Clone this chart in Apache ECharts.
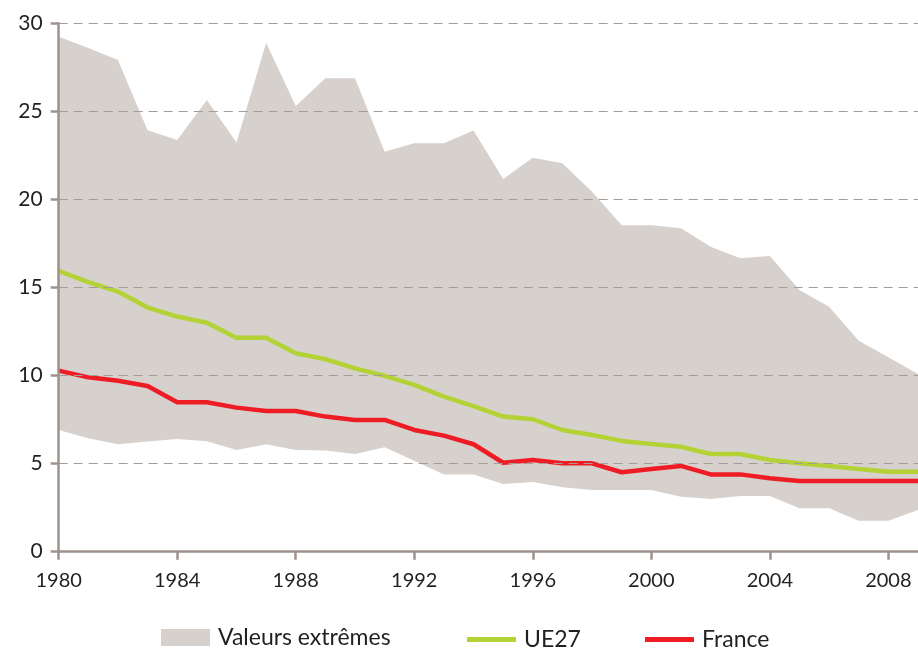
<!DOCTYPE html>
<html>
<head>
<meta charset="utf-8">
<script src="https://cdn.jsdelivr.net/npm/echarts@6/dist/echarts.min.js"></script>
<style>
  html, body { margin: 0; padding: 0; background: #ffffff; }
  #chart { width: 918px; height: 649px; }
</style>
</head>
<body>
<div id="chart"></div>
<script>
const years = ['1980', '1981', '1982', '1983', '1984', '1985', '1986', '1987', '1988', '1989',
               '1990', '1991', '1992', '1993', '1994', '1995', '1996', '1997', '1998', '1999',
               '2000', '2001', '2002', '2003', '2004', '2005', '2006', '2007', '2008', '2009'];
const yTicks = [0, 5, 10, 15, 20, 25, 30];

const maxVals = [29.24, 28.6, 27.92, 23.93, 23.37, 25.65, 23.23, 28.9, 25.31, 26.88,
                 26.88, 22.71, 23.19, 23.19, 23.91, 21.16, 22.37, 22.05, 20.44, 18.54,
                 18.54, 18.36, 17.32, 16.66, 16.79, 14.86, 13.91, 11.98, 11.04, 10.09];
const minVals = [6.91, 6.44, 6.10, 6.25, 6.40, 6.27, 5.78, 6.10, 5.78, 5.74,
                 5.55, 5.93, 5.17, 4.39, 4.39, 3.84, 3.96, 3.66, 3.50, 3.50,
                 3.50, 3.12, 2.99, 3.16, 3.16, 2.46, 2.46, 1.76, 1.76, 2.37];
const ue27 = [15.94, 15.30, 14.77, 13.86, 13.35, 13.0, 12.15, 12.15, 11.27, 10.93,
              10.41, 9.98, 9.47, 8.80, 8.27, 7.67, 7.52, 6.91, 6.63, 6.29,
              6.12, 5.96, 5.55, 5.55, 5.21, 5.02, 4.87, 4.70, 4.54, 4.54];
const france = [10.28, 9.90, 9.71, 9.41, 8.48, 8.48, 8.18, 7.99, 7.99, 7.67,
                7.48, 7.48, 6.91, 6.59, 6.10, 5.05, 5.21, 5.02, 5.02, 4.51,
                4.70, 4.87, 4.39, 4.39, 4.17, 4.01, 4.01, 4.01, 4.01, 4.01];

const bandData = maxVals.map((v, i) => +(v - minVals[i]).toFixed(2));

const axisColor = '#9e928f';
const textColor = '#231f20';
const font = 'Lato, "Liberation Sans", sans-serif';
const bandColor = '#d7d1ce';
const green = '#b2d235';
const red = '#ee1c25';

const chart = echarts.init(document.getElementById('chart'), null, { renderer: 'canvas' });

const legendBase = {
  orient: 'horizontal',
  top: 626,
  padding: 0,
  selectedMode: false,
  textStyle: { fontFamily: font, fontSize: 23, color: textColor, padding: [0, 0, 0, 3] }
};

chart.setOption({
  animation: false,
  backgroundColor: '#ffffff',
  grid: { left: 58.7, right: 0, top: 23.3, bottom: 97.3, containLabel: false, outerBoundsMode: 'none' },
  legend: [
    Object.assign({}, legendBase, {
      left: 161, icon: 'rect', itemWidth: 49, itemHeight: 17,
      data: [{ name: 'Valeurs extrêmes', itemStyle: { color: bandColor, borderWidth: 0 } }]
    }),
    Object.assign({}, legendBase, {
      left: 467, top: 628, icon: 'rect', itemWidth: 49, itemHeight: 5,
      data: [{ name: 'UE27', itemStyle: { color: green, borderWidth: 0 } }]
    }),
    Object.assign({}, legendBase, {
      left: 645, top: 628, icon: 'rect', itemWidth: 49, itemHeight: 5,
      data: [{ name: 'France', itemStyle: { color: red, borderWidth: 0 } }]
    })
  ],
  xAxis: {
    type: 'category',
    data: years,
    boundaryGap: false,
    z: 5,
    axisLine: { show: true, onZero: false, lineStyle: { color: axisColor, width: 2.5 } },
    axisTick: { show: true, length: 8, interval: 3, alignWithLabel: true, lineStyle: { color: axisColor, width: 2.5 } },
    axisLabel: {
      interval: 3,
      margin: 19,
      fontFamily: font, fontSize: 20, color: textColor
    },
    splitLine: { show: false }
  },
  yAxis: {
    type: 'value',
    min: 0,
    max: 30,
    interval: 5,
    z: 5,
    axisLine: { show: true, lineStyle: { color: axisColor, width: 2.5 } },
    axisTick: { show: true, length: 8, lineStyle: { color: axisColor, width: 2.5 } },
    axisLabel: {
      margin: 16,
      fontFamily: font, fontSize: 21, color: textColor
    },
    splitLine: { show: true, lineStyle: { color: '#a59b99', width: 1, type: [9, 6] } }
  },
  series: [
    {
      name: 'min',
      type: 'line',
      stack: 'band',
      data: minVals,
      symbol: 'none',
      lineStyle: { width: 0, opacity: 0 },
      silent: true,
      z: 1
    },
    {
      name: 'Valeurs extrêmes',
      type: 'line',
      stack: 'band',
      data: bandData,
      symbol: 'none',
      itemStyle: { color: bandColor },
      lineStyle: { width: 0, opacity: 0 },
      areaStyle: { color: bandColor, opacity: 1 },
      silent: true,
      z: 1
    },
    {
      name: 'UE27',
      type: 'line',
      data: ue27,
      symbol: 'none',
      itemStyle: { color: green },
      lineStyle: { color: green, width: 4.5 },
      silent: true
    },
    {
      name: 'France',
      type: 'line',
      data: france,
      symbol: 'none',
      itemStyle: { color: red },
      lineStyle: { color: red, width: 4.5 },
      silent: true
    }
  ]
});
</script>
</body>
</html>
